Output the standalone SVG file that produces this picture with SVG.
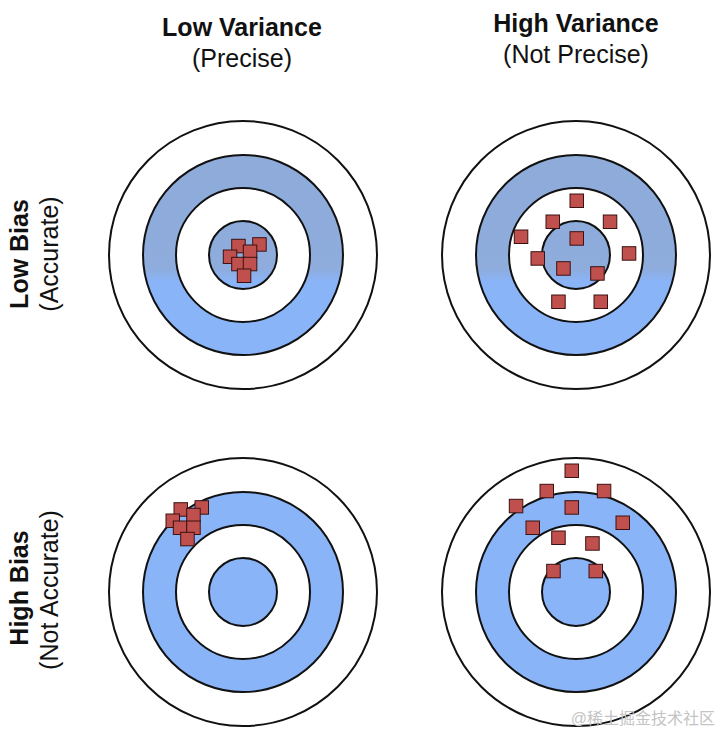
<svg xmlns="http://www.w3.org/2000/svg" width="720" height="732" viewBox="0 0 720 732">
<style>
.ring{stroke:#111;stroke-width:2}
.w{fill:#fff}
.b{fill:#8ab4f8}
.bt{fill:url(#topBlue)}
.sq{fill:#c0504d;stroke:#3a1212;stroke-width:1}
.h{font-family:"Liberation Sans",Arial,sans-serif;font-size:25px;font-weight:bold;fill:#111;text-anchor:middle}
.s{font-family:"Liberation Sans",Arial,sans-serif;font-size:25px;fill:#111;text-anchor:middle}
.wm{font-family:"Liberation Sans","Noto Sans CJK SC",sans-serif;font-size:16px;fill:#c4c4c4;text-anchor:end}
</style>
<defs>
<linearGradient id="topBlue" gradientUnits="userSpaceOnUse" x1="0" y1="121" x2="0" y2="389">
<stop offset="0" stop-color="#8eabd9"/>
<stop offset="0.55" stop-color="#8eacdc"/>
<stop offset="0.6" stop-color="#8ab4f8"/>
<stop offset="1" stop-color="#8ab4f8"/>
</linearGradient>
<rect id="q" class="sq" width="13.5" height="13.5"/>
</defs>
<rect width="720" height="732" fill="#fff"/>

<g id="header-low-variance">
<text class="h" x="242" y="36">Low Variance</text>
<text class="s" x="242" y="67">(Precise)</text>
</g>
<g id="header-high-variance">
<text class="h" x="576" y="32">High Variance</text>
<text class="s" x="576" y="63">(Not Precise)</text>
</g>
<g id="label-low-bias">
<text class="h" transform="translate(28,254) rotate(-90)">Low Bias</text>
<text class="s" transform="translate(58,254) rotate(-90)">(Accurate)</text>
</g>
<g id="label-high-bias">
<text class="h" transform="translate(28,588) rotate(-90)">High Bias</text>
<text class="s" transform="translate(58,590) rotate(-90)">(Not Accurate)</text>
</g>

<g id="target-low-bias-low-variance">
<circle class="ring w" cx="243" cy="255" r="134"/>
<circle class="ring bt" cx="243" cy="255" r="100"/>
<circle class="ring w" cx="243" cy="255" r="67"/>
<circle class="ring bt" cx="243" cy="255" r="34"/>
<use href="#q" x="252.7" y="237.7"/>
<use href="#q" x="231.7" y="239.3"/>
<use href="#q" x="243.3" y="245"/>
<use href="#q" x="223.3" y="250"/>
<use href="#q" x="231.7" y="257.3"/>
<use href="#q" x="243.3" y="257.3"/>
<use href="#q" x="237.3" y="269"/>
</g>

<g id="target-low-bias-high-variance">
<circle class="ring w" cx="576" cy="255" r="134"/>
<circle class="ring bt" cx="576" cy="255" r="100"/>
<circle class="ring w" cx="576" cy="255" r="67"/>
<circle class="ring bt" cx="576" cy="255" r="34"/>
<use href="#q" x="570" y="194"/>
<use href="#q" x="546" y="215"/>
<use href="#q" x="603.3" y="215"/>
<use href="#q" x="514.3" y="230"/>
<use href="#q" x="570" y="231.7"/>
<use href="#q" x="622.3" y="246.7"/>
<use href="#q" x="531" y="251.7"/>
<use href="#q" x="556.7" y="261.7"/>
<use href="#q" x="590.7" y="266.7"/>
<use href="#q" x="551.7" y="295"/>
<use href="#q" x="594" y="295"/>
</g>

<g id="target-high-bias-low-variance">
<circle class="ring w" cx="243" cy="592" r="134"/>
<circle class="ring b" cx="243" cy="592" r="100"/>
<circle class="ring w" cx="243" cy="592" r="67"/>
<circle class="ring b" cx="243" cy="592" r="34"/>
<use href="#q" x="195" y="500.7"/>
<use href="#q" x="174" y="502.7"/>
<use href="#q" x="186.7" y="508.3"/>
<use href="#q" x="166" y="514"/>
<use href="#q" x="173.3" y="521"/>
<use href="#q" x="186.7" y="521"/>
<use href="#q" x="180.7" y="532.3"/>
</g>

<g id="target-high-bias-high-variance">
<circle class="ring w" cx="576" cy="592" r="134"/>
<circle class="ring b" cx="576" cy="592" r="100"/>
<circle class="ring w" cx="576" cy="592" r="67"/>
<circle class="ring b" cx="576" cy="592" r="34"/>
<use href="#q" x="565" y="464"/>
<use href="#q" x="540" y="484.3"/>
<use href="#q" x="597.3" y="484.3"/>
<use href="#q" x="509.3" y="499.3"/>
<use href="#q" x="565" y="500.7"/>
<use href="#q" x="616" y="516"/>
<use href="#q" x="526" y="521"/>
<use href="#q" x="551.7" y="531"/>
<use href="#q" x="585.7" y="536.7"/>
<use href="#q" x="546.7" y="564.3"/>
<use href="#q" x="589" y="564.3"/>
</g>

<g id="connectors"></g>

<text class="wm" x="715" y="724">@稀土掘金技术社区</text>
</svg>
